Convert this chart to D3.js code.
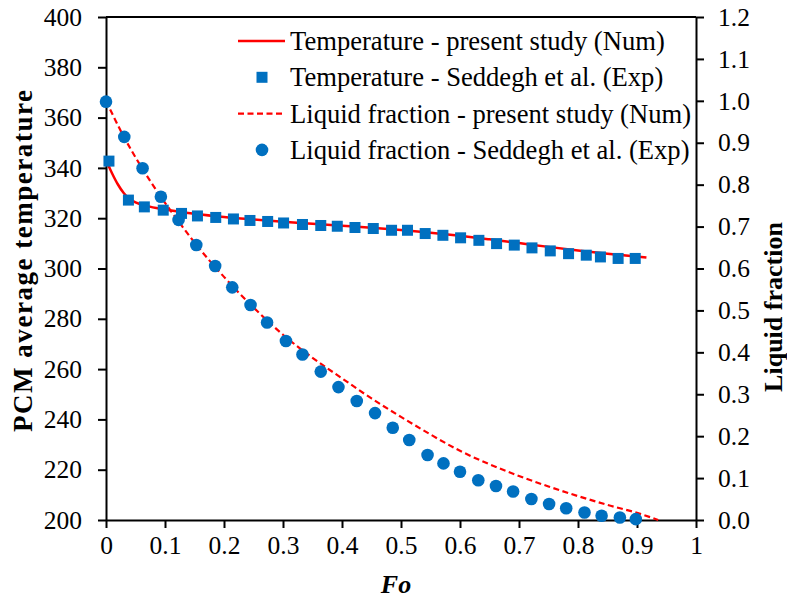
<!DOCTYPE html>
<html>
<head>
  <title>PCM temperature and liquid fraction</title>
  <script src="https://d3js.org/d3.v7.min.js"></script>
  <style>
    body { margin: 0; background: #fff; }
    text { font-family: "Liberation Serif", "Times New Roman", serif; fill: #000; }
  </style>
</head>
<body>
<div id="chart-container"></div>
<script>

// Fourier number of the experimental points
var foTempExp = [0.005, 0.038, 0.065, 0.097, 0.128, 0.155, 0.186, 0.216, 0.244, 0.274, 0.301,
  0.333, 0.364, 0.392, 0.422, 0.453, 0.484, 0.511, 0.541, 0.571, 0.601, 0.632, 0.662, 0.692,
  0.722, 0.753, 0.784, 0.814, 0.838, 0.868, 0.897];
var tempExp = [342.7, 327.2, 324.5, 323.2, 321.9, 320.9, 320.3, 319.7, 319.1, 318.7, 318.1,
  317.5, 317.1, 316.8, 316.3, 315.9, 315.2, 315.2, 313.9, 313.2, 312.2, 311.2, 309.9, 309.3,
  308.2, 307.0, 305.9, 305.3, 304.6, 304.0, 304.0];

var foLfExp = [0.0, 0.031, 0.062, 0.093, 0.123, 0.153, 0.185, 0.214, 0.245, 0.273, 0.305,
  0.333, 0.364, 0.394, 0.425, 0.456, 0.486, 0.514, 0.545, 0.572, 0.600, 0.631, 0.661, 0.690,
  0.721, 0.751, 0.780, 0.811, 0.840, 0.871, 0.898];
var lfExp = [0.998, 0.914, 0.839, 0.771, 0.716, 0.656, 0.606, 0.555, 0.513, 0.471, 0.427,
  0.395, 0.354, 0.317, 0.284, 0.255, 0.220, 0.191, 0.155, 0.135, 0.115, 0.095, 0.081, 0.068,
  0.050, 0.038, 0.028, 0.018, 0.010, 0.006, 0.002];

// numerical results (present study)
var foTempNum = [0, 0.005, 0.01, 0.02, 0.03, 0.04, 0.05, 0.07, 0.1, 0.15, 0.2, 0.25, 0.3, 0.35,
  0.4, 0.45, 0.5, 0.55, 0.6, 0.65, 0.7, 0.75, 0.8, 0.85, 0.916];
var tempNum = [343, 340.5, 338, 333.5, 330, 327.6, 326.3, 324.8, 323.5, 321.8, 320.5, 319.5,
  318.6, 317.8, 317, 316.2, 315.3, 314.2, 313, 311.6, 310.1, 308.6, 307.2, 305.9, 304.4];

var foLfNum = [0, 0.03, 0.06, 0.09, 0.12, 0.15, 0.2, 0.25, 0.3, 0.35, 0.4, 0.45, 0.5, 0.55,
  0.6, 0.65, 0.7, 0.75, 0.8, 0.85, 0.9, 0.936];
var lfNum = [1.0, 0.915, 0.842, 0.777, 0.718, 0.662, 0.58, 0.507, 0.442, 0.387, 0.338, 0.290,
  0.246, 0.204, 0.165, 0.133, 0.105, 0.080, 0.057, 0.036, 0.017, 0.0];

var xTicks = [0, 0.1, 0.2, 0.3, 0.4, 0.5, 0.6, 0.7, 0.8, 0.9, 1];
var yLeftTicks = [200, 220, 240, 260, 280, 300, 320, 340, 360, 380, 400];
var yRightTicks = [0, 0.1, 0.2, 0.3, 0.4, 0.5, 0.6, 0.7, 0.8, 0.9, 1.0, 1.1, 1.2];

var legendLabels = [
  "Temperature - present study (Num)",
  "Temperature - Seddegh et al. (Exp)",
  "Liquid fraction - present study (Num)",
  "Liquid fraction - Seddegh et al. (Exp)"
];

var red = "#ff0000", blue = "#0070c0";

var margin = { top: 17, right: 91, bottom: 83, left: 106 };
var width = 787 - margin.left - margin.right;
var height = 603 - margin.top - margin.bottom;

var svg = d3.select("#chart-container")
  .append("svg")
  .attr("width", 787)
  .attr("height", 603)
  .append("g")
  .attr("transform", "translate(" + margin.left + "," + margin.top + ")");

var x = d3.scaleLinear().domain([0, 1]).range([0, width]);
var yL = d3.scaleLinear().domain([200, 400]).range([height, 0]);
var yR = d3.scaleLinear().domain([0, 1.2]).range([height, 0]);

// top frame line
svg.append("line")
  .attr("x1", 0).attr("x2", width)
  .attr("y1", 0).attr("y2", 0)
  .attr("stroke", "#000").attr("stroke-width", 2);

function styleAxis(g) {
  g.selectAll(".domain").attr("stroke", "#000").attr("stroke-width", 2);
  g.selectAll(".tick line").attr("stroke", "#000").attr("stroke-width", 2);
  g.selectAll(".tick text")
    .style("font-family", "'Liberation Serif', serif")
    .style("font-size", "25.5px")
    .attr("fill", "#000");
}

svg.append("g")
  .attr("transform", "translate(0," + height + ")")
  .call(d3.axisBottom(x).tickValues(xTicks).tickSize(8).tickSizeOuter(0).tickPadding(8)
    .tickFormat(d => d === 0 || d === 1 ? d3.format("d")(d) : d3.format(".1f")(d)))
  .call(styleAxis);

svg.append("g")
  .call(d3.axisLeft(yL).tickValues(yLeftTicks).tickSize(8).tickSizeOuter(0).tickPadding(16)
    .tickFormat(d3.format("d")))
  .call(styleAxis);

svg.append("g")
  .attr("transform", "translate(" + width + ",0)")
  .call(d3.axisRight(yR).tickValues(yRightTicks).tickSize(8).tickSizeOuter(0).tickPadding(14)
    .tickFormat(d3.format(".1f")))
  .call(styleAxis);

// axis titles
svg.append("text")
  .attr("transform", "translate(" + (23 - margin.left) + "," + (261 - margin.top) + ") rotate(-90)")
  .attr("text-anchor", "middle")
  .attr("dy", "0.35em")
  .style("font-size", "27px")
  .style("font-weight", "bold")
  .attr("textLength", 342)
  .attr("lengthAdjust", "spacing")
  .text("PCM average temperature");

svg.append("text")
  .attr("transform", "translate(" + (773 - margin.left) + "," + (307 - margin.top) + ") rotate(-90)")
  .attr("text-anchor", "middle")
  .attr("dy", "0.33em")
  .style("font-size", "26px")
  .style("font-weight", "bold")
  .text("Liquid fraction");

svg.append("text")
  .attr("x", width / 2 - 5)
  .attr("y", height + 73)
  .attr("text-anchor", "middle")
  .style("font-size", "26px")
  .style("font-weight", "bold")
  .style("font-style", "italic")
  .text("Fo");

// numerical curves
var lineT = d3.line()
  .x((d, i) => x(foTempNum[i]))
  .y(d => yL(d))
  .curve(d3.curveMonotoneX);

var lineLf = d3.line()
  .x((d, i) => x(foLfNum[i]))
  .y(d => yR(d))
  .curve(d3.curveMonotoneX);

svg.append("path")
  .datum(lfNum)
  .attr("d", lineLf)
  .attr("fill", "none")
  .attr("stroke", red)
  .attr("stroke-width", 2.2)
  .attr("stroke-dasharray", "6,3.5");

svg.append("path")
  .datum(tempNum)
  .attr("d", lineT)
  .attr("fill", "none")
  .attr("stroke", red)
  .attr("stroke-width", 2.5);

// experimental markers
svg.selectAll(".sq")
  .data(tempExp)
  .enter().append("rect")
  .attr("class", "sq")
  .attr("x", (d, i) => x(foTempExp[i]) - 5.5)
  .attr("y", d => yL(d) - 5.5)
  .attr("width", 11)
  .attr("height", 11)
  .attr("fill", blue);

svg.selectAll(".dot")
  .data(lfExp)
  .enter().append("circle")
  .attr("class", "dot")
  .attr("cx", (d, i) => x(foLfExp[i]))
  .attr("cy", d => yR(d))
  .attr("r", 6.3)
  .attr("fill", blue);

// legend
var legend = svg.append("g")
  .attr("transform", "translate(" + (238 - margin.left) + "," + (41 - margin.top) + ")");

legendLabels.forEach(function (label, i) {
  var row = legend.append("g").attr("transform", "translate(0," + (i * 36.3) + ")");
  if (i === 0 || i === 2) {
    row.append("line")
      .attr("x1", 0).attr("x2", 47)
      .attr("y1", 0).attr("y2", 0)
      .attr("stroke", red)
      .attr("stroke-width", i === 0 ? 2.5 : 2.2)
      .attr("stroke-dasharray", i === 2 ? "6,3.5" : null);
  } else if (i === 1) {
    row.append("rect")
      .attr("x", 24 - 5.5).attr("y", -5.5)
      .attr("width", 11).attr("height", 11)
      .attr("fill", blue);
  } else {
    row.append("circle")
      .attr("cx", 24).attr("cy", 0).attr("r", 6.3)
      .attr("fill", blue);
  }
  row.append("text")
    .attr("x", 52)
    .attr("y", 9)
    .style("font-size", "26.6px")
    .text(label);
});

</script>
</body>
</html>
